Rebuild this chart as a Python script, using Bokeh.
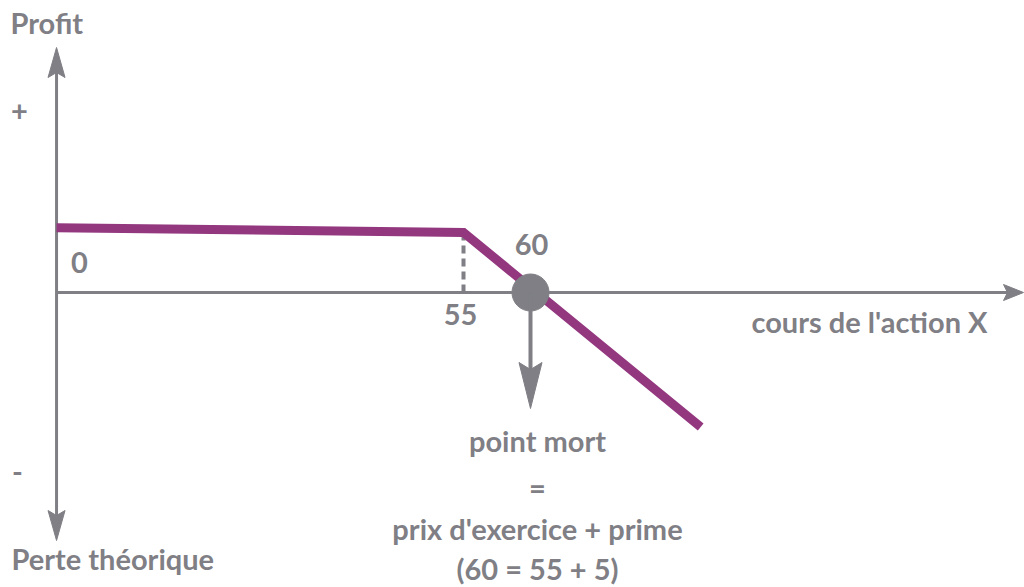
from bokeh.plotting import figure
from bokeh.models import Range1d, Label
from bokeh.embed import file_html
from bokeh.resources import INLINE

# Short call payoff: flat premium up to the strike, then a loss as the price rises
strike = 55
premium = 5
breakeven = 60
price = [24.63, 55, 72.7]
profit = [5.4, 5, -11.2]

W, H = 1024, 587
SX, SY = 13.4, 12.0          # pixels per unit on each axis
X0 = strike - 463 / SX       # left edge of the frame, in price units
Y1 = 292 / SY                # top edge of the frame, in profit units

GREY = "#7f7f85"
PURPLE = "#93377f"
FONT = "Lato"


def fx(px):
    return X0 + px / SX


def fy(py):
    return Y1 - py / SY


p = figure(width=W, height=H, output_backend="svg", toolbar_location=None,
           x_range=Range1d(X0, X0 + W / SX), y_range=Range1d(Y1 - H / SY, Y1),
           min_border=0, outline_line_color=None)
p.axis.visible = False
p.grid.visible = False
p.background_fill_color = "white"


def head(tip_x, tip_y, dx, dy, length, width, notch):
    """Notched arrowhead; (dx, dy) is the pointing direction in screen pixels."""
    tx, ty = (tip_x - X0) * SX, (Y1 - tip_y) * SY
    nx, ny = -dy, dx
    bx, by = tx - dx * length, ty - dy * length
    pts = [(tx, ty),
           (bx + nx * width / 2, by + ny * width / 2),
           (tx - dx * (length - notch), ty - dy * (length - notch)),
           (bx - nx * width / 2, by - ny * width / 2)]
    p.patch([fx(a) for a, _ in pts], [fy(b) for _, b in pts],
            fill_color=GREY, line_color=GREY, line_width=1)


origin = price[0]

# price axis (profit = 0)
p.line([origin, fx(1008)], [0, 0], line_color=GREY, line_width=3)
head(fx(1023), 0, 1, 0, 20, 16, 4)

# profit axis
p.line([origin, origin], [fy(70), fy(518)], line_color=GREY, line_width=3)
head(origin, fy(47), 0, -1, 30, 17, 5)
head(origin, fy(540), 0, 1, 30, 17, 5)

# strike marker
p.line([strike, strike], [0, premium], line_color=GREY, line_width=4,
       line_dash="8 5")

# payoff
p.line(price, profit, line_color=PURPLE, line_width=9, line_join="miter",
       line_cap="butt")

# break-even point and its pointer
p.scatter([breakeven], [0], size=37, fill_color=GREY, line_color=GREY)
p.line([breakeven, breakeven], [0, fy(372)], line_color=GREY, line_width=4)
head(breakeven, fy(408), 0, 1, 46, 23, 7)


def label(text, xp, yp, align="center", size=29):
    p.add_layout(Label(x=fx(xp), y=fy(yp), text=text, text_font=FONT,
                       text_font_style="bold", text_font_size=f"{size}px",
                       text_color=GREY, text_align=align,
                       text_baseline="middle"))


label("Profit", 10, 22, align="left")
label("+", 19, 110)
label("-", 17, 471)
label("0", 79, 262)
label("55", 460, 314)
label("60", 531, 244)
label("cours de l'action X", 869, 321)
label("Perte théorique", 11, 558, align="left")
label("point mort", 537, 440)
label("=", 537, 487)
label("prix d'exercice + prime", 537, 528)
label("(60 = 55 + 5)", 537, 568)

open("out.html", "w").write(file_html(p, INLINE))
